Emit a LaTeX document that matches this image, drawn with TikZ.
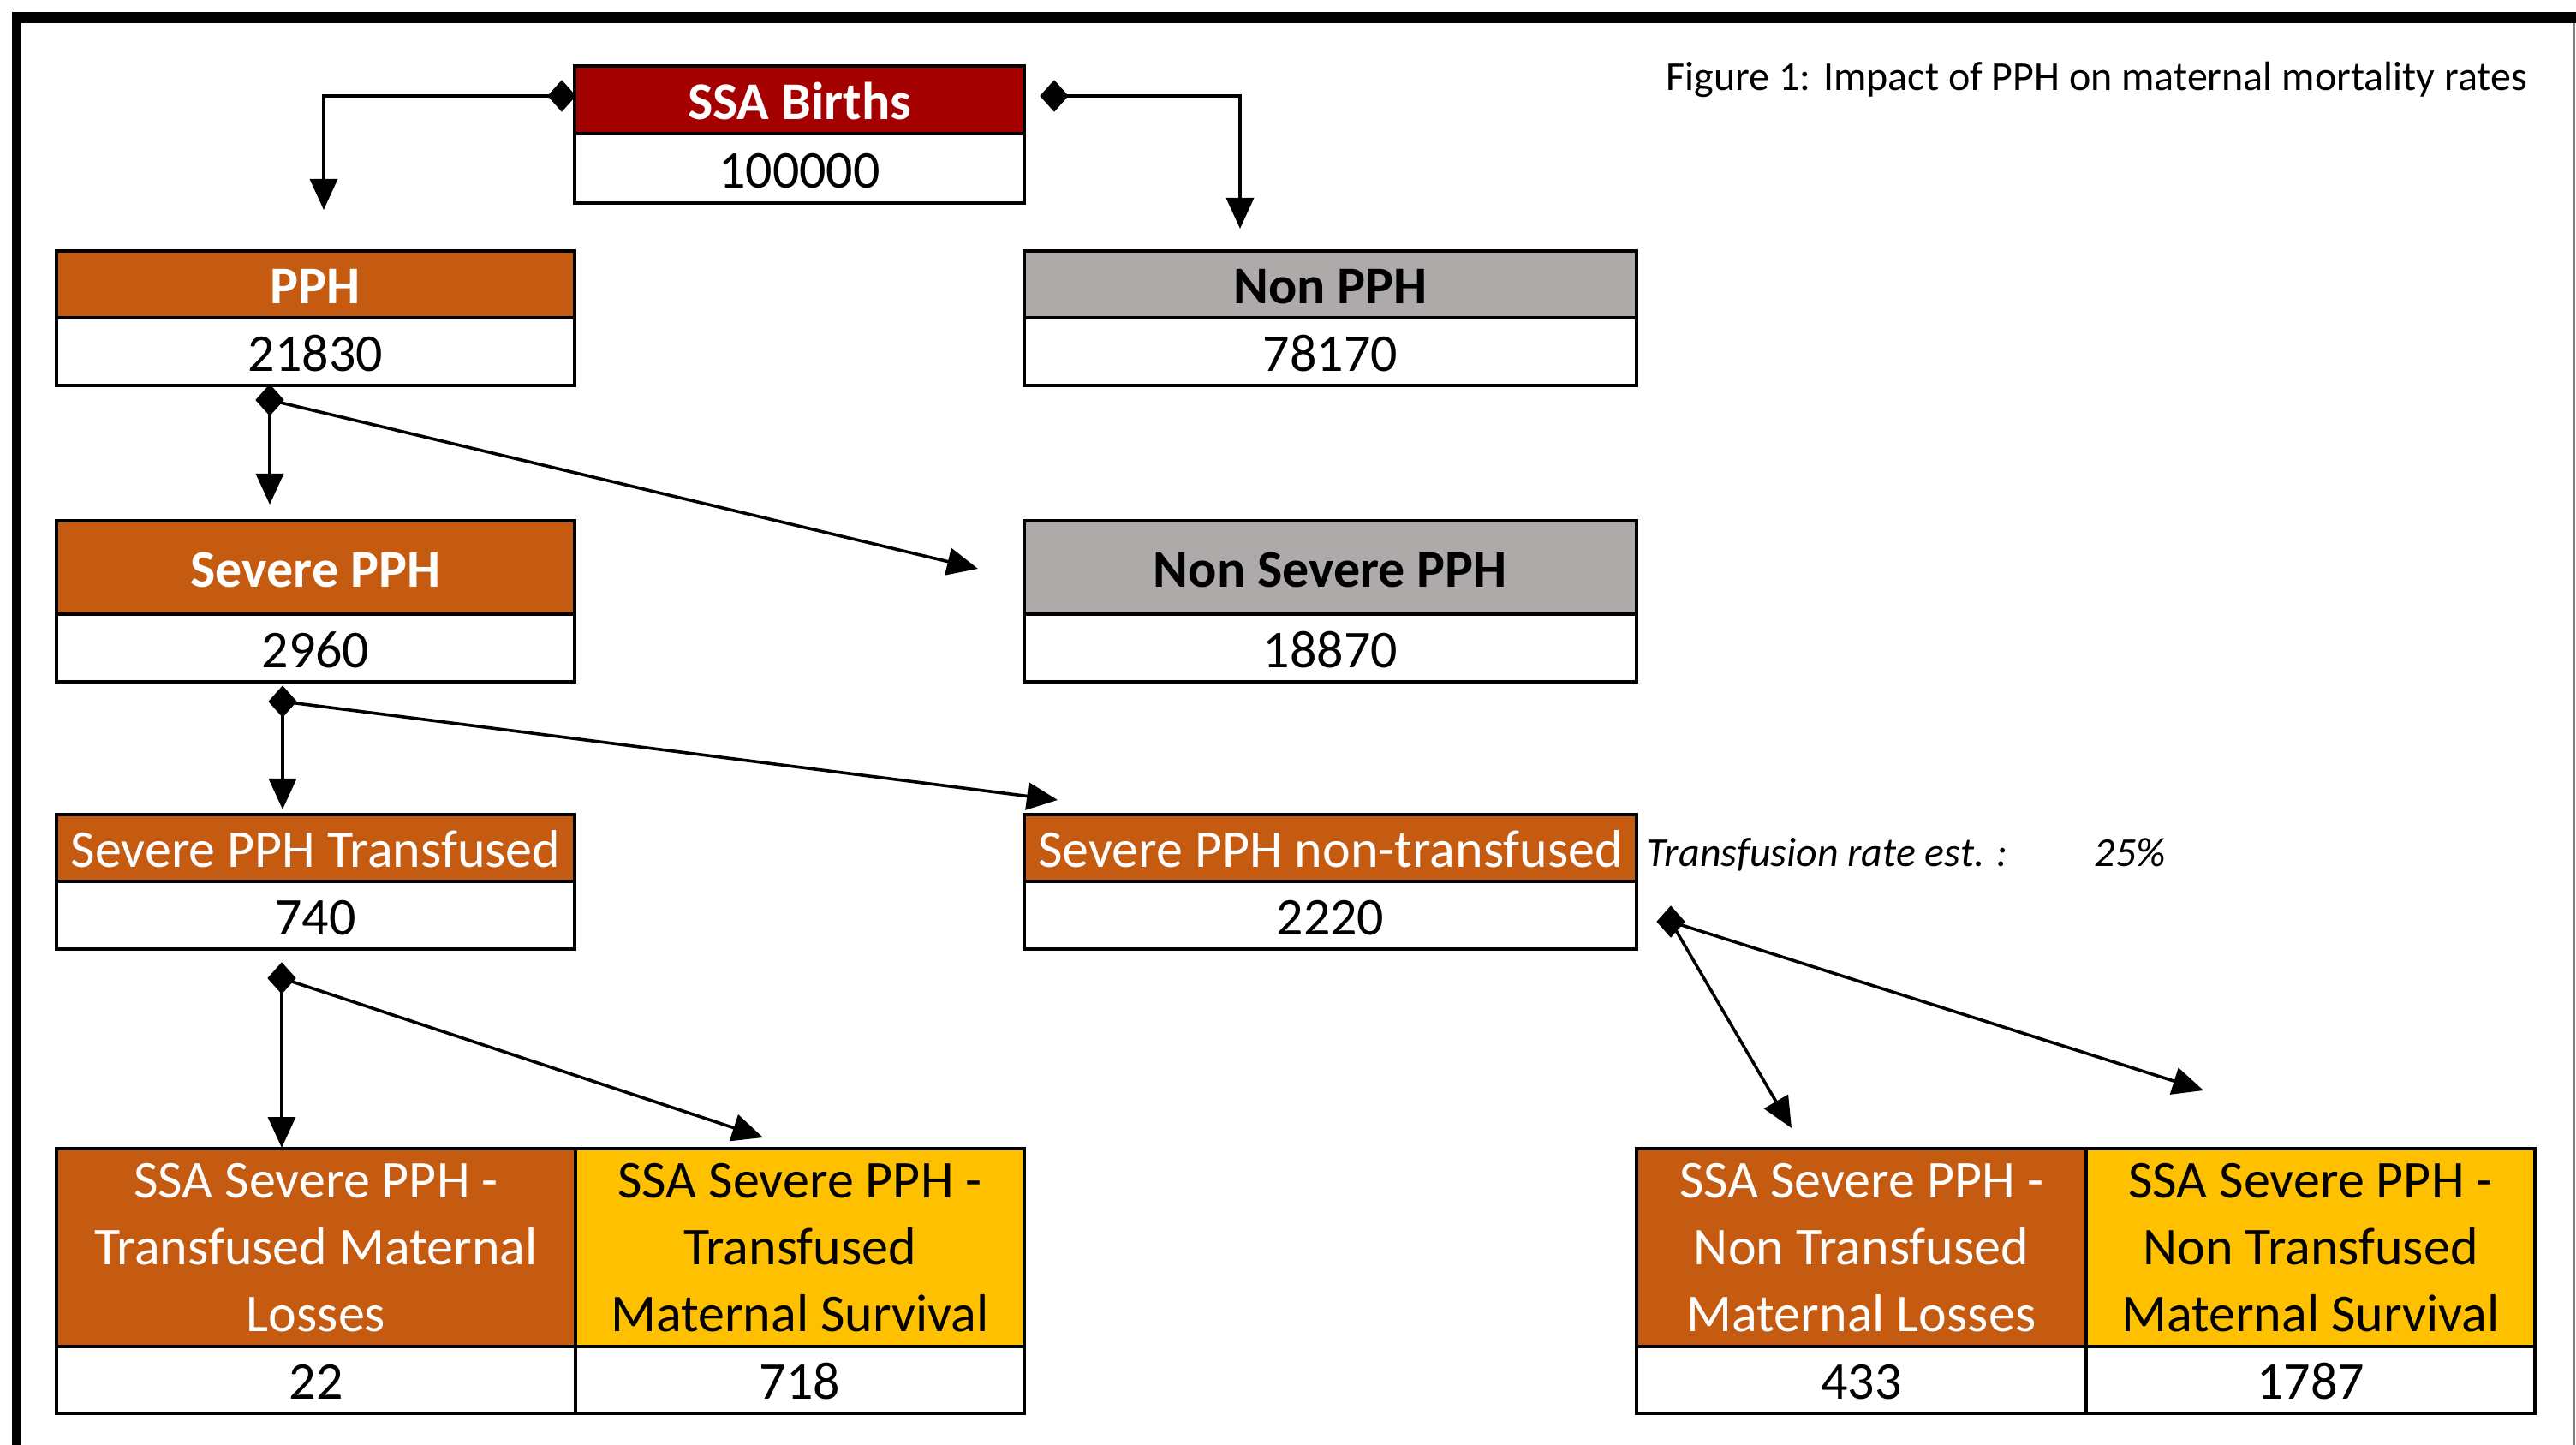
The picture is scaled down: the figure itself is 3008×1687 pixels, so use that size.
\documentclass[tikz,border=0pt]{standalone}
\usepackage{fontspec}
\setmainfont{Carlito}
\usetikzlibrary{arrows.meta,shapes.geometric}
\definecolor{dred}{HTML}{A50000}
\definecolor{orng}{HTML}{C55A11}
\definecolor{greyb}{HTML}{AEAAAA}
\definecolor{gold}{HTML}{FFC000}
\newcommand\cellnode[7]{\node[#6, minimum width={(#4-#2)*0.25pt}, minimum height={(#5-#3)*0.25pt}] (#1) at ({(#2+#4)/2},{(#3+#5)/2}) {#7};}
\newcommand\boxfont{\fontsize{15.5}{19.5}\selectfont}
\begin{document}
\begin{tikzpicture}[x=0.25pt,y=-0.25pt,
  cellbase/.style={draw=black, line width=1.1pt, inner sep=0pt, font=\boxfont},
  single/.style={cellbase, text height=11.4pt, text depth=0pt},
  multi/.style={cellbase, align=center},
  boldhdr/.style={single, font=\boxfont\bfseries},
  val/.style={single, fill=white, text=black},
  fork/.style={diamond, fill=black, draw=none, inner sep=0pt, minimum width=8.5pt, minimum height=9.5pt},
  conn/.style={line width=0.9pt, -{Triangle[length=9pt,width=8pt]}}]
\useasboundingbox (0,0) rectangle (3008,1687);
% frame
\fill[black] (14,14) rectangle (3008,27);
\fill[black] (14,14) rectangle (25,1687);
\draw[gray, line width=0.5pt] (3006,27) -- (3006,1687);
% title
\node[anchor=base west, inner sep=0pt, font=\fontsize{12}{14}\selectfont] (title) at (1945,106) {Figure 1: Impact of PPH on maternal mortality rates};
% boxes
\cellnode{birthsH}{671}{77}{1196}{156}{boldhdr, fill=dred, text=white}{SSA Births}
\cellnode{birthsV}{671}{156}{1196}{237}{val}{100000}
\cellnode{pphH}{66}{293}{671}{371}{boldhdr, fill=orng, text=white}{PPH}
\cellnode{pphV}{66}{371}{671}{450}{val}{21830}
\cellnode{nonpphH}{1196}{293}{1911}{371}{boldhdr, fill=greyb, text=black}{Non PPH}
\cellnode{nonpphV}{1196}{371}{1911}{450}{val}{78170}
\cellnode{sevH}{66}{608}{671}{717}{boldhdr, fill=orng, text=white}{Severe PPH}
\cellnode{sevV}{66}{717}{671}{796}{val}{2960}
\cellnode{nonsevH}{1196}{608}{1911}{717}{boldhdr, fill=greyb, text=black}{Non Severe PPH}
\cellnode{nonsevV}{1196}{717}{1911}{796}{val}{18870}
\cellnode{trH}{66}{951}{671}{1029}{single, fill=orng, text=white}{Severe PPH Transfused}
\cellnode{trV}{66}{1029}{671}{1108}{val}{740}
\cellnode{ntrH}{1196}{951}{1911}{1029}{single, fill=orng, text=white}{Severe PPH non-transfused}
\cellnode{ntrV}{1196}{1029}{1911}{1108}{val}{2220}
\cellnode{trlH}{66}{1341}{672}{1572}{multi, fill=orng, text=white}{SSA Severe PPH -\\Transfused Maternal\\Losses}
\cellnode{trlV}{66}{1572}{672}{1650}{val}{22}
\cellnode{trsH}{672}{1341}{1196}{1572}{multi, fill=gold, text=black}{SSA Severe PPH -\\Transfused\\Maternal Survival}
\cellnode{trsV}{672}{1572}{1196}{1650}{val}{718}
\cellnode{ntlH}{1911}{1341}{2436}{1572}{multi, fill=orng, text=white}{SSA Severe PPH -\\Non Transfused\\Maternal Losses}
\cellnode{ntlV}{1911}{1572}{2436}{1650}{val}{433}
\cellnode{ntsH}{2436}{1341}{2960}{1572}{multi, fill=gold, text=black}{SSA Severe PPH -\\Non Transfused\\Maternal Survival}
\cellnode{ntsV}{2436}{1572}{2960}{1650}{val}{1787}
% side note
\node[anchor=base west, inner sep=0pt, font=\itshape\fontsize{12}{14}\selectfont] (rate) at (1922,1012) {Transfusion rate est. :};
\node[anchor=base west, inner sep=0pt, font=\itshape\fontsize{12}{14}\selectfont] (pct) at (2445,1012) {25\%};
% connector end points
\coordinate (t0) at (378,245);
\coordinate (t1) at (1448,267);
\coordinate (t2) at (315,589);
\coordinate (t3) at (1142,664);
\coordinate (t4) at (330,945);
\coordinate (t5) at (1235,934);
\coordinate (t6) at (329,1340);
\coordinate (t7) at (891,1328);
\coordinate (t8) at (2092,1317);
\coordinate (t9) at (2573,1273);
% forks
\node[fork] (f0) at (656,112) {};
\node[fork] (f1) at (1231,112) {};
\node[fork] (f2) at (315,467) {};
\node[fork] (f3) at (330,819) {};
\node[fork] (f4) at (329,1142) {};
\node[fork] (f5) at (1951,1076) {};
% connectors
\draw[conn] (f0.center) -| (t0);
\draw[conn] (f1.center) -| (t1);
\draw[conn] (f2.center) -- (t2);
\draw[conn] (f2.center) -- (t3);
\draw[conn] (f3.center) -- (t4);
\draw[conn] (f3.center) -- (t5);
\draw[conn] (f4.center) -- (t6);
\draw[conn] (f4.center) -- (t7);
\draw[conn] (f5.center) -- (t8);
\draw[conn] (f5.center) -- (t9);
\end{tikzpicture}
\end{document}
